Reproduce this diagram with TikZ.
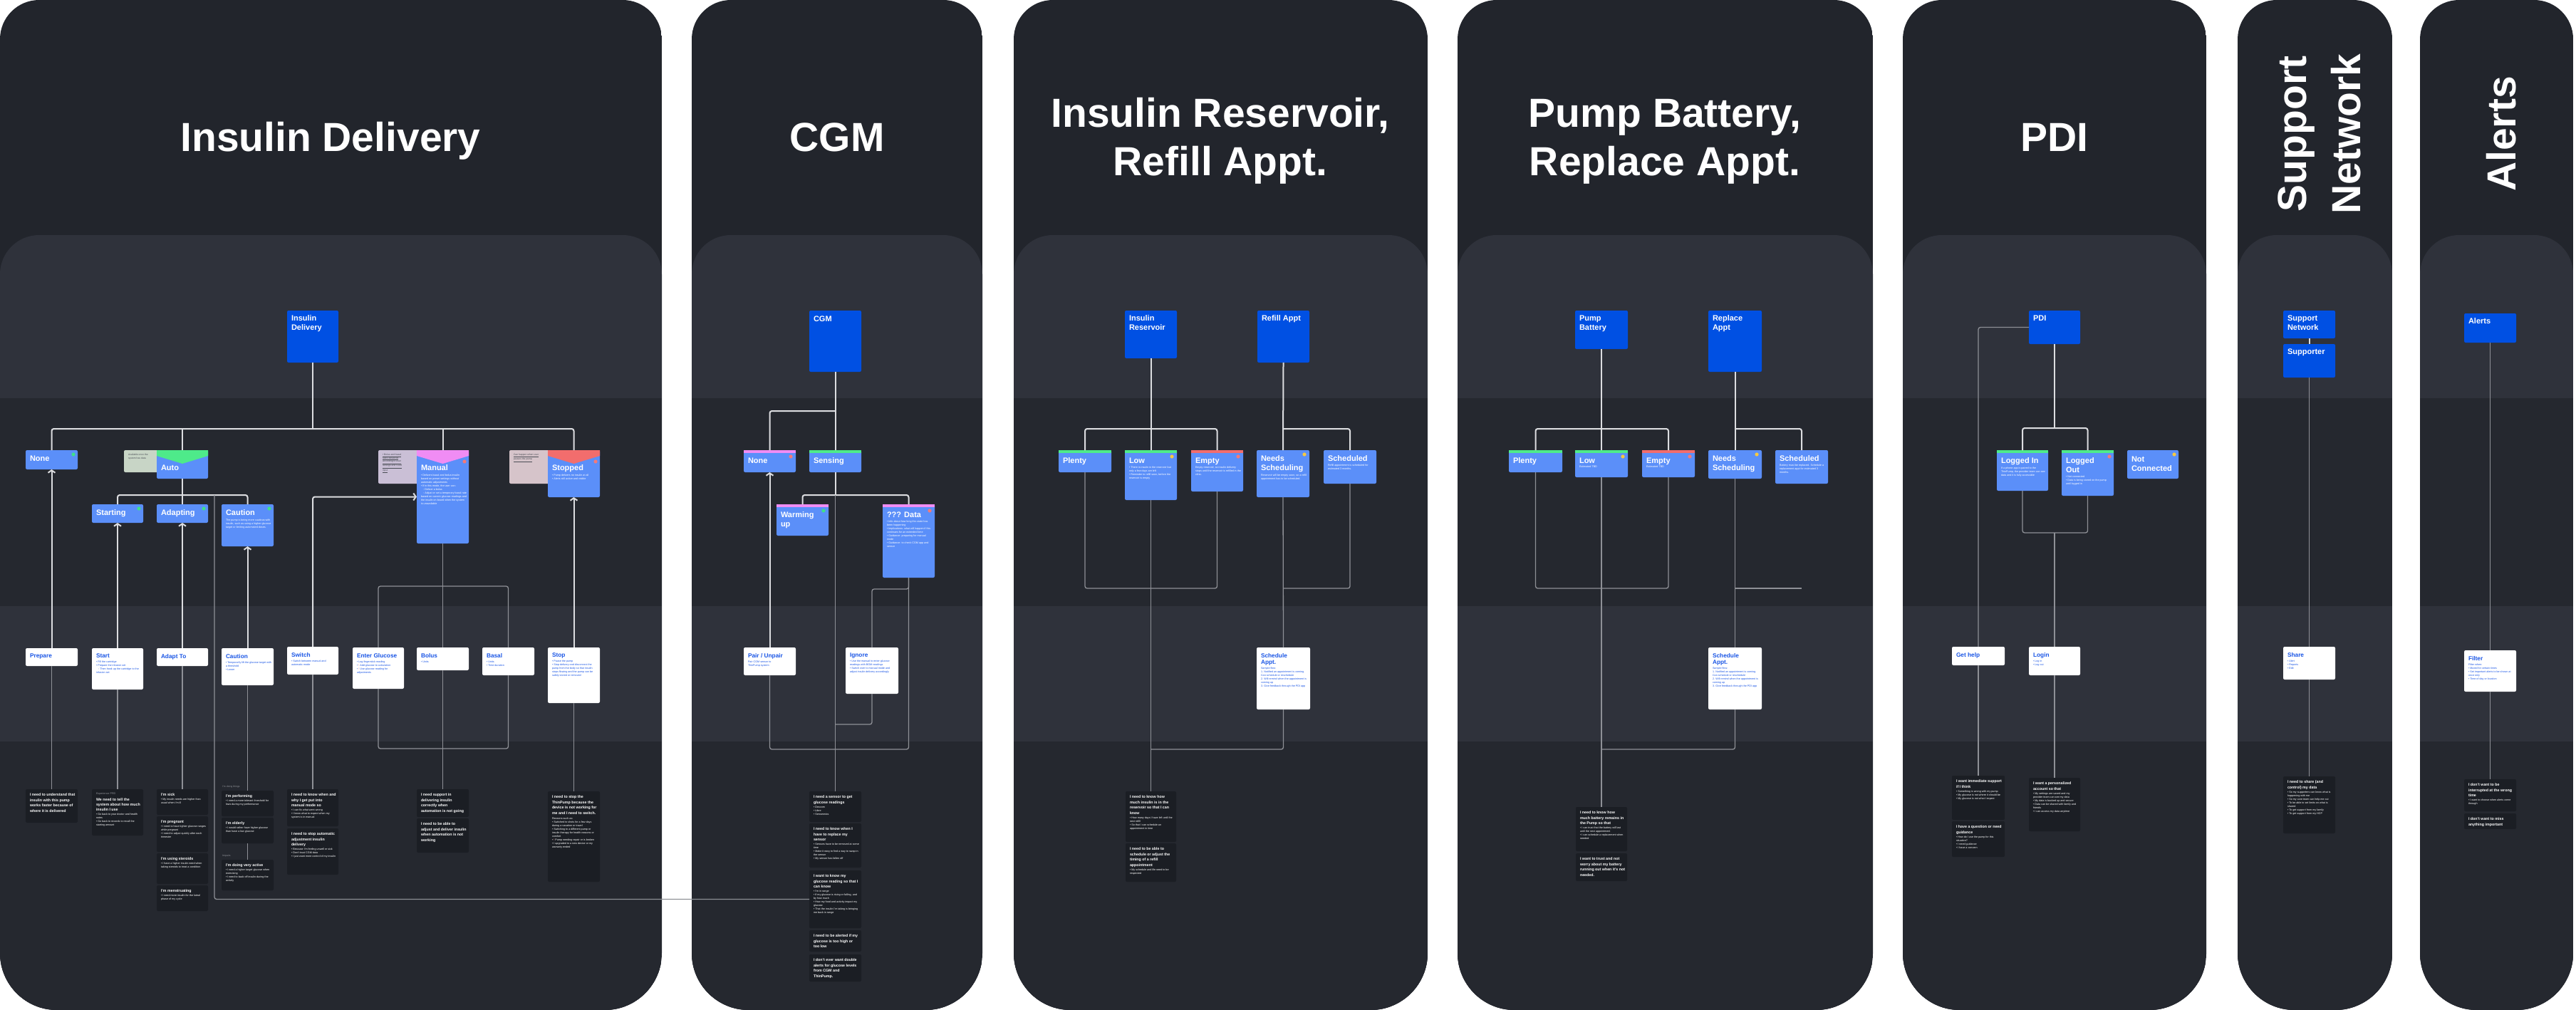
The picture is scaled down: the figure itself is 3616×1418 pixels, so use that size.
\documentclass[tikz,border=0pt]{standalone}
\usepackage{fontspec}
\setmainfont{Liberation Sans}
\usetikzlibrary{arrows.meta,calc}
\definecolor{panel}{HTML}{22252C}
\definecolor{bandL}{HTML}{2F323B}
\definecolor{bandD}{HTML}{25282F}
\definecolor{hblue}{HTML}{0050E3}
\definecolor{sblue}{HTML}{5B8FF9}
\definecolor{tblue}{HTML}{1A56E6}
\definecolor{needc}{HTML}{1B1E24}
\definecolor{gstrip}{HTML}{4EEA8A}
\definecolor{pstrip}{HTML}{F08CF4}
\definecolor{rstrip}{HTML}{F26D6D}
\definecolor{ydot}{HTML}{F5C842}
\definecolor{gdot}{HTML}{3FE08A}
\definecolor{rdot}{HTML}{F27A7A}
\definecolor{lineL}{HTML}{DCDDE0}
\definecolor{lineG}{HTML}{8E9096}
\definecolor{noteA}{HTML}{C8D5C6}
\definecolor{noteM}{HTML}{CABFD6}
\definecolor{noteS}{HTML}{D6C4CA}
\definecolor{notetxt}{HTML}{4A4D55}
\newcommand\cbx[4]{\parbox[c][#2pt][t]{#1pt}{\vspace*{#3pt}\leftskip=6pt\rightskip=3pt plus 1fil\relax\parindent=0pt\parskip=0pt\relax #4\par}}
\newcommand\Ttl{\bfseries\fontsize{11}{13}\selectfont}
\newcommand\Atl{\bfseries\fontsize{8.3}{9.6}\selectfont}
\newcommand\Ntl{\bfseries\fontsize{5.3}{7.4}\selectfont}
\newcommand\Bod{\fontsize{3.7}{5}\selectfont}
\newcommand\Nte{\fontsize{3.4}{4.6}\selectfont}
\newcommand\Rx{\textcolor{rdot}{!}}
\newcommand\chev[2]{\fill[#2] (#1.north west) -- (#1.north east) -- ($(#1.north east)+(0,8)$) -- ($(#1.north)+(0,19)$) -- ($(#1.north west)+(0,8)$) -- cycle;}
\newcommand\stripx[2]{\fill[#2] (#1.north west) rectangle ($(#1.north east)+(0,4)$);}
\newcommand\dotat[3]{\fill[#2] ($(#1.north east)+#3$) circle (2.6pt);}
\begin{document}
\begin{tikzpicture}[x=1pt,y=-1pt,
 cardbase/.style={anchor=north west, inner sep=0pt, outer sep=0pt, rounded corners=2pt},
 head/.style={cardbase, fill=hblue, text=white},
 st/.style={cardbase, fill=sblue, text=white},
 act/.style={cardbase, fill=white, text=tblue},
 need/.style={cardbase, fill=needc, text=white},
 note/.style={cardbase, text=notetxt},
 ml/.style={draw=lineL, line width=2pt},
 mg/.style={draw=lineG, line width=1.3pt},
 rc/.style={rounded corners=3pt},
 arr/.style={-{Straight Barb[length=3.5pt,width=10pt]}},
 coltitle/.style={text=white, font=\bfseries\fontsize{57}{68}\selectfont, inner sep=0pt},
 tinylbl/.style={anchor=south west, inner sep=0pt, text=lineG, font=\fontsize{3.5}{4}\selectfont}
]
\useasboundingbox (0,0) rectangle (3616,1418);
\fill[white] (0,0) rectangle (3616,1418);
% ---------- panels ----------
\foreach \xa/\xb in {0/929, 971/1379, 1423/2004, 2046/2629, 2671/3097, 3141/3358, 3397/3612} {
 \begin{scope}
  \clip (\xa,709) [rounded corners=55pt] -- (\xa,0) -- (\xb,0) -- (\xb,709) [rounded corners=80pt] -- (\xb,1418) -- (\xa,1418) -- cycle;
  \fill[panel] (\xa,0) rectangle (\xb,1418);
  \fill[bandL, rounded corners=55pt] (\xa,330) rectangle (\xb,1500);
  \fill[bandD] (\xa,559) rectangle (\xb,851);
  \fill[bandL] (\xa,851) rectangle (\xb,1041);
  \fill[bandD] (\xa,1041) rectangle (\xb,1418);
 \end{scope}
}
% ---------- column titles ----------
\node[coltitle, anchor=base] (t1) at (464,212) {Insulin Delivery};
\node[coltitle, anchor=base] (t2) at (1175,212) {CGM};
\node[coltitle, anchor=base] (t3a) at (1713,178) {Insulin Reservoir,};
\node[coltitle, anchor=base] (t3b) at (1713,246) {Refill Appt.};
\node[coltitle, anchor=base] (t4a) at (2337,178) {Pump Battery,};
\node[coltitle, anchor=base] (t4b) at (2337,246) {Replace Appt.};
\node[coltitle, anchor=base] (t5) at (2884,212) {PDI};
\node[coltitle, anchor=base, rotate=90] (t6a) at (3237,188) {Support};
\node[coltitle, anchor=base, rotate=90] (t6b) at (3313,188) {Network};
\node[coltitle, anchor=base, rotate=90] (t7) at (3531,188) {Alerts};

% ================= INSULIN DELIVERY =================
\node[head] (id) at (403,436) {\cbx{72}{73}{7}{{\Ttl Insulin\\Delivery\par}}};
\node[note, fill=noteA] (autonote) at (174,632) {\cbx{60}{31}{5}{{\Nte Available once the\\system has data\par}}};
\node[note, fill=noteM] (mannote) at (531,632) {\cbx{62}{47}{5}{{\Nte \underline{• Bolus and basal}\\\underline{rates delivered}\\\underline{according to user}\\\underline{settings and CGM}\\\underline{input}\par}}};
\node[note, fill=noteS] (stopnote) at (715,632) {\cbx{62}{47}{5}{{\Nte \underline{Can happen when user}\\\underline{pauses the pump}\par}}};
\node[st] (none) at (36,632) {\cbx{73}{27}{8}{{\Ttl None\par}}};
\node[st] (auto) at (220,632) {\cbx{72}{40}{21}{{\Ttl Auto\par}}};
\node[st] (manual) at (585,632) {\cbx{73}{131}{21}{{\Ttl Manual\par}\vspace{3pt}{\Bod • Delivers basal and bolus insulin based on preset settings without automatic adjustments\\• If in this mode, the user can:\\\hspace*{3pt}◦ Deliver a bolus\\\hspace*{3pt}◦ Adjust or set a temporary basal rate based on current glucose readings and the insulin on board when the system is unavailable\par}}};
\node[st] (stopped) at (769,632) {\cbx{73}{66}{21}{{\Ttl Stopped\par}\vspace{3pt}{\Bod • Pump delivers no insulin at all\\• Alerts still active and visible\par}}};
\node[st] (starting) at (129,708) {\cbx{72}{26}{8}{{\Ttl Starting\par}}};
\node[st] (adapting) at (220,708) {\cbx{72}{26}{8}{{\Ttl Adapting\par}}};
\node[st] (caution) at (311,708) {\cbx{73}{59}{8}{{\Ttl Caution\par}\vspace{3pt}{\Bod The pump is being more cautious with insulin, such as using a higher glucose target or limiting automated doses.\par}}};
\chev{auto}{gstrip}
\chev{manual}{pstrip}
\chev{stopped}{rstrip}
\dotat{none}{gdot}{(-6,6)}
\dotat{manual}{rdot}{(-6,16)}
\dotat{stopped}{rdot}{(-6,16)}
\dotat{starting}{gdot}{(-6,6)}
\dotat{adapting}{gdot}{(-6,6)}
\dotat{caution}{gdot}{(-6,6)}
% actions
\node[act] (prepare) at (36,910) {\cbx{73}{25}{8}{{\Atl Prepare\par}}};
\node[act] (start) at (129,910) {\cbx{72}{58}{8}{{\Atl Start\par}\vspace{2pt}{\Bod • Fill the cartridge\\• Prepare the infusion set\\\hspace*{3pt}◦ Then hook up the cartridge to the infusion set\par}}};
\node[act] (adaptto) at (220,910) {\cbx{72}{25}{8}{{\Atl Adapt To\par}}};
\node[act] (cautiona) at (311,910) {\cbx{73}{52}{8}{{\Atl Caution\par}\vspace{2pt}{\Bod • Temporarily lift the glucose target with a threshold\\• Lower\par}}};
\node[act] (switch) at (403,908) {\cbx{72}{39}{8}{{\Atl Switch\par}\vspace{2pt}{\Bod • Switch between manual and automatic mode\par}}};
\node[act] (enterg) at (495,909) {\cbx{72}{58}{8}{{\Atl Enter Glucose\par}\vspace{2pt}{\Bod • Log fingerstick reading\\• \Rx\ Add glucose to calculation\\• \Rx\ Use glucose reading for adjustments\par}}};
\node[act] (bolus) at (585,909) {\cbx{73}{32}{8}{{\Atl Bolus\par}\vspace{2pt}{\Bod • Units\par}}};
\node[act] (basal) at (677,909) {\cbx{73}{39}{8}{{\Atl Basal\par}\vspace{2pt}{\Bod • Units\\• Time duration\par}}};
\node[act] (stop) at (769,909) {\cbx{73}{78}{8}{{\Atl Stop\par}\vspace{2pt}{\Bod • Pause the pump\\• Stop delivery and disconnect the pump from the body so that insulin stops flowing and the pump can be safely stored or removed\par}}};
% needs
\node[need] (nprep) at (36,1108) {\cbx{73}{47}{6}{{\Ntl I need to understand that insulin with this pump works faster because of where it is delivered\par}}};
\node[need] (nstart) at (129,1108) {\cbx{72}{65}{5}{{\Bod\color{lineG} Experience PRD\par}\vspace{1pt}{\Ntl We need to tell the system about how much insulin I use\par}\vspace{1pt}{\Bod • Go back to your doctor and health notes\\• Go back to records to recall the starting amount\par}}};
\node[need] (nad1) at (220,1108) {\cbx{72}{36}{6}{{\Ntl I'm sick\par}\vspace{1pt}{\Bod • My insulin needs are higher than usual when I'm ill\par}}};
\node[need] (nad2) at (220,1146) {\cbx{72}{50}{6}{{\Ntl I'm pregnant\par}\vspace{1pt}{\Bod • I need to have tighter glucose ranges while pregnant\\• I need to adjust quickly after each trimester\par}}};
\node[need] (nad3) at (220,1198) {\cbx{72}{43}{6}{{\Ntl I'm using steroids\par}\vspace{1pt}{\Bod • I have a higher insulin need when taking steroids to treat a condition\par}}};
\node[need] (nad4) at (220,1243) {\cbx{72}{36}{6}{{\Ntl I'm menstruating\par}\vspace{1pt}{\Bod • I need more insulin for the luteal phase of my cycle\par}}};
\node[tinylbl] (lbl1) at (312,1106) {I'm doing things};
\node[need] (ncau1) at (311,1110) {\cbx{73}{36}{6}{{\Ntl I'm performing\par}\vspace{1pt}{\Bod • I need a more tolerant threshold for lows during my performance\par}}};
\node[need] (ncau2) at (311,1148) {\cbx{73}{36}{6}{{\Ntl I'm elderly\par}\vspace{1pt}{\Bod • I would rather have higher glucose than have a low glucose\par}}};
\node[tinylbl] (lbl2) at (312,1203) {Impairs};
\node[need] (ncau3) at (311,1207) {\cbx{73}{43}{6}{{\Ntl I'm doing very active\par}\vspace{1pt}{\Bod • I need a higher target glucose when exercising\\• I need to back off insulin during the activity\par}}};
\node[need] (nsw1) at (403,1108) {\cbx{72}{52}{6}{{\Ntl I need to know when and why I get put into manual mode so\par}\vspace{1pt}{\Bod • I can fix what went wrong\\• I know what to expect when my system is in manual\par}}};
\node[need] (nsw2) at (403,1163) {\cbx{72}{65}{6}{{\Ntl I need to stop automatic adjustment insulin delivery\par}\vspace{1pt}{\Bod • Because I'm feeling unwell or sick\\• Don't trust CGM data\\• I just want more control of my insulin\par}}};
\node[need] (nbol1) at (585,1108) {\cbx{73}{39}{6}{{\Ntl I need support in delivering insulin correctly when automation is not going\par}}};
\node[need] (nbol2) at (585,1149) {\cbx{73}{48}{6}{{\Ntl I need to be able to adjust and deliver insulin when automation is not working\par}}};
\node[need] (nstop) at (769,1111) {\cbx{73}{127}{6}{{\Ntl I need to stop the ThinPump because the device is not working for me and I need to switch.\par}\vspace{2pt}{\Bod Reasons such as:\\• Switched to shots for a few days during a vacation or travel\\• Switching to a different pump or insulin therapy for health reasons or comfort\\• \Rx\ Pump needing repair or is broken\\• I upgraded to a new device or my warranty ended\par}}};
% connectors
\coordinate (idb) at (439,602);
\draw[ml] (id.south) -- (idb);
\draw[ml,rc] (none.north) |- (idb) -| (stopped.north);
\draw[ml] (auto.north) -- (auto.north |- idb);
\draw[ml] (manual.north) -- (manual.north |- idb);
\coordinate (ab) at (256,695);
\draw[ml] (auto.south) -- (ab);
\draw[ml,rc] (starting.north) |- (ab) -| (caution.north);
\draw[ml] (adapting.north) -- (adapting.north |- ab);
\coordinate (ax) at (301,695);
\draw[ml,arr] (prepare.north) -- (none.south);
\draw[ml,arr] (start.north) -- (starting.south);
\draw[ml,arr] (adaptto.north) -- (adapting.south);
\draw[ml,arr] (cautiona.north) -- (caution.south);
\draw[ml,arr,rc] (switch.north) |- (manual.west);
\draw[ml,arr] (stop.north) -- (stopped.south);
\coordinate (mb) at (621.5,823);
\draw[mg] (manual.south) -- (bolus.north);
\draw[mg,rc] (enterg.north) |- (mb) -| (basal.north);
\coordinate (mb2) at (621.5,1051);
\draw[mg,rc] (enterg.south) |- (mb2) -| (basal.south);
\draw[mg] (bolus.south) -- (nbol1.north);
\draw[mg] (prepare.south) -- (nprep.north);
\draw[mg] (start.south) -- (nstart.north);
\draw[mg] (adaptto.south) -- (nad1.north);
\draw[mg] (cautiona.south) -- (ncau1.north);
\draw[mg] (ncau2.south) -- (ncau3.north);
\draw[mg] (switch.south) -- (nsw1.north);
\draw[mg] (stop.south) -- (nstop.north);

% ================= CGM =================
\node[head] (cgm) at (1136,436) {\cbx{73}{86}{8}{{\Ttl CGM\par}}};
\node[st] (cnone) at (1044,632) {\cbx{73}{31}{11}{{\Ttl None\par}}};
\node[st] (csens) at (1136,632) {\cbx{73}{31}{11}{{\Ttl Sensing\par}}};
\node[st] (cwarm) at (1090,708) {\cbx{73}{44}{11}{{\Ttl Warming\\up\par}}};
\node[st] (cdata) at (1239,708) {\cbx{73}{103}{11}{{\Ttl ??? Data\par}\vspace{2pt}{\Bod • Info about how long this state has been happening\\• Implications: what will happen if this continues for an extended time\\• Guidance: preparing for manual mode\\• Guidance: to check CGM app and sensor\par}}};
\stripx{cnone}{pstrip}
\stripx{csens}{gstrip}
\stripx{cwarm}{pstrip}
\stripx{cdata}{pstrip}
\dotat{cnone}{rdot}{(-7,9)}
\dotat{cwarm}{gdot}{(-7,9)}
\dotat{cdata}{rdot}{(-7,9)}
\node[act] (cpair) at (1044,909) {\cbx{73}{39}{8}{{\Atl Pair / Unpair\par}\vspace{2pt}{\Bod Pair CGM sensor to\\ThinPump system\par}}};
\node[act] (cignore) at (1187,909) {\cbx{74}{65}{8}{{\Atl Ignore\par}\vspace{2pt}{\Bod • Use the manual to enter glucose readings with BGM readings\\• Switch over to manual mode and adjust insulin delivery accordingly\par}}};
\node[need] (cn1) at (1136,1111) {\cbx{73}{43}{6}{{\Ntl I need a sensor to get glucose readings\par}\vspace{1pt}{\Bod • Dexcom\\• Libre\\• Senseonics\par}}};
\node[need] (cn2) at (1136,1156) {\cbx{73}{62}{6}{{\Ntl I need to know when I have to replace my sensor\par}\vspace{1pt}{\Bod • Sensors have to be removed at some time\\• Make it easy to find a way to swap in the sensor\\• My sensor has fallen off\par}}};
\node[need] (cn3) at (1136,1222) {\cbx{73}{81}{6}{{\Ntl I want to know my glucose reading so that I can know\par}\vspace{1pt}{\Bod • I'm in range\\• If my glucose is rising or falling, and by how much\\• How my food and activity impact my glucose\\• That the insulin I'm taking is bringing me back in range\par}}};
\node[need] (cn4) at (1136,1306) {\cbx{73}{30}{6}{{\Ntl I need to be alerted if my glucose is too high or too low\par}}};
\node[need] (cn5) at (1136,1340) {\cbx{73}{38}{6}{{\Ntl I don't ever want double alerts for glucose levels from CGM and ThinPump.\par}}};
\coordinate (cb1) at (1172.5,577);
\draw[ml] (cgm.south) -- (csens.north);
\draw[ml,rc] (cnone.north) |- (cb1);
\coordinate (cb2) at (1172.5,695);
\draw[ml] (csens.south) -- (cb2);
\draw[ml,rc] (cwarm.north) |- (cb2) -| (cdata.north);
\draw[ml,arr] (cpair.north) -- (cnone.south);
\draw[mg,rc] (cdata.south) -- ++(0,16) -| (cignore.north);
\draw[mg] (cb2) -- (cn1.north);
\coordinate (cb3) at (1172.5,1052);
\draw[mg,rc] (cpair.south) |- (cb3) -| (cdata.south);
\draw[mg,rc] (cignore.south) |- ($(cb3)+(0,-35)$);
\draw[mg,rc] (ax) |- (cn3.west);

% ================= RESERVOIR =================
\node[head] (rhead) at (1579,436) {\cbx{73}{67}{7}{{\Ttl Insulin\\Reservoir\par}}};
\node[head] (fhead) at (1765,436) {\cbx{73}{73}{7}{{\Ttl Refill Appt\par}}};
\node[st] (rplenty) at (1486,632) {\cbx{74}{31}{11}{{\Ttl Plenty\par}}};
\node[st] (rlow) at (1579,632) {\cbx{73}{70}{11}{{\Ttl Low\par}\vspace{2pt}{\Bod • There is insulin in the reservoir but only a few days are left\\• Reminder to refill soon, before the reservoir is empty\par}}};
\node[st] (rempty) at (1672,632) {\cbx{73}{58}{11}{{\Ttl Empty\par}\vspace{2pt}{\Bod Empty reservoir, so insulin delivery stops until the reservoir is refilled in the clinic.\par}}};
\node[st] (rneeds) at (1764,632) {\cbx{74}{66}{8}{{\Ttl Needs\\Scheduling\par}\vspace{2pt}{\Bod Reservoir will be empty soon, so a refill appointment has to be scheduled.\par}}};
\node[st] (rsched) at (1858,632) {\cbx{74}{47}{8}{{\Ttl Scheduled\par}\vspace{2pt}{\Bod Refill appointment is scheduled for estimated 3 months.\par}}};
\stripx{rplenty}{gstrip}
\stripx{rlow}{gstrip}
\stripx{rempty}{rstrip}
\dotat{rlow}{ydot}{(-7,9)}
\dotat{rempty}{rdot}{(-7,9)}
\dotat{rneeds}{ydot}{(-7,6)}
\node[act] (rappt) at (1764,909) {\cbx{75}{87}{8}{{\Atl Schedule\\Appt.\par}\vspace{2pt}{\Bod Sample flow:\\1. Notified an appointment is coming. Can schedule or reschedule\\2. Will remind when the appointment is coming up\\3. Give feedback through the PDI app\par}}};
\node[need] (rn1) at (1580,1111) {\cbx{71}{71}{6}{{\Ntl I need to know how much insulin is in the reservoir so that I can know\par}\vspace{1pt}{\Bod • How many days I have left until the next refill\\• So that I can schedule an appointment in time\par}}};
\node[need] (rn2) at (1580,1184) {\cbx{71}{54}{6}{{\Ntl I need to be able to schedule or adjust the timing of a refill appointment\par}\vspace{1pt}{\Bod • My schedule and life need to be respected\par}}};
\coordinate (rb) at (1615.5,602);
\draw[ml] (rhead.south) -- (rlow.north);
\draw[ml,rc] (rplenty.north) |- (rb) -| (rempty.north);
\draw[ml] (fhead.south) -- (rneeds.north);
\draw[ml,rc] (fhead.south |- rb) -| (rsched.north);
\coordinate (rb2) at (1615.5,826);
\draw[mg,rc] (rplenty.south) |- (rb2) -| (rempty.south);
\draw[mg] (rlow.south) -- (rn1.north);
\draw[mg,rc] (rneeds.south |- rb2) -| (rsched.south);
\draw[mg] (rneeds.south) -- (rappt.north);
\draw[mg,rc] (rappt.south) |- ($(rb2)+(0,226)$);

% ================= BATTERY =================
\node[head] (bhead) at (2211,436) {\cbx{74}{54}{7}{{\Ttl Pump\\Battery\par}}};
\node[head] (phead) at (2398,436) {\cbx{75}{86}{7}{{\Ttl Replace\\Appt\par}}};
\node[st] (bplenty) at (2118,632) {\cbx{75}{31}{11}{{\Ttl Plenty\par}}};
\node[st] (blow) at (2211,632) {\cbx{74}{38}{11}{{\Ttl Low\par}\vspace{1pt}{\Bod Estimated TBD\par}}};
\node[st] (bempty) at (2305,632) {\cbx{74}{38}{11}{{\Ttl Empty\par}\vspace{1pt}{\Bod Estimated TBD\par}}};
\node[st] (bneeds) at (2398,632) {\cbx{75}{40}{8}{{\Ttl Needs\\Scheduling\par}}};
\node[st] (bsched) at (2492,632) {\cbx{74}{47}{8}{{\Ttl Scheduled\par}\vspace{2pt}{\Bod Battery must be replaced. Schedule a replacement appt for estimated 3 months.\par}}};
\stripx{bplenty}{gstrip}
\stripx{blow}{gstrip}
\stripx{bempty}{rstrip}
\dotat{blow}{ydot}{(-7,9)}
\dotat{bempty}{rdot}{(-7,9)}
\dotat{bneeds}{ydot}{(-7,6)}
\node[act] (bappt) at (2398,909) {\cbx{75}{87}{8}{{\Atl Schedule\\Appt.\par}\vspace{2pt}{\Bod Sample flow:\\1. Notified an appointment is coming. Can schedule or reschedule\\2. Will remind when the appointment is coming up\\3. Give feedback through the PDI app\par}}};
\node[need] (bn1) at (2212,1133) {\cbx{72}{62}{6}{{\Ntl I need to know how much battery remains in the Pump so that\par}\vspace{1pt}{\Bod • I can trust that the battery will last until the next appointment\\• I can schedule a replacement when needed\par}}};
\node[need] (bn2) at (2212,1198) {\cbx{72}{39}{6}{{\Ntl I want to trust and not worry about my battery running out when it's not needed.\par}}};
\coordinate (bb) at (2248,602);
\draw[ml] (bhead.south) -- (blow.north);
\draw[ml,rc] (bplenty.north) |- (bb) -| (bempty.north);
\draw[ml] (phead.south) -- (bneeds.north);
\draw[ml,rc] (phead.south |- bb) -| (bsched.north);
\coordinate (bb2) at (2248,826);
\draw[mg,rc] (bplenty.south) |- (bb2) -| (bempty.south);
\draw[mg] (blow.south) -- (bn1.north);
\draw[mg,rc] (bneeds.south |- bb2) -- (bsched.south |- bb2);
\draw[mg] (bneeds.south) -- (bappt.north);
\draw[mg,rc] (bappt.south) |- ($(bb2)+(0,226)$);

% ================= PDI =================
\node[head] (pdi) at (2848,436) {\cbx{72}{47}{7}{{\Ttl PDI\par}}};
\node[st] (lin) at (2803,632) {\cbx{72}{57}{11}{{\Ttl Logged In\par}\vspace{2pt}{\Bod If a phone app is paired to the ThinPump, the provider team can see data and it is fully accessible\par}}};
\node[st] (lout) at (2894,632) {\cbx{73}{64}{11}{{\Ttl Logged\\Out\par}\vspace{2pt}{\Bod • Not connected\\• Data is being stored on the pump until logged in\par}}};
\node[st] (notc) at (2986,632) {\cbx{72}{40}{9}{{\Ttl Not\\Connected\par}}};
\stripx{lin}{gstrip}
\stripx{lout}{gstrip}
\dotat{lout}{rdot}{(-6,9)}
\dotat{notc}{ydot}{(-6,6)}
\node[act] (gethelp) at (2740,908) {\cbx{74}{26}{8}{{\Atl Get help\par}}};
\node[act] (logina) at (2848,908) {\cbx{72}{40}{8}{{\Atl Login\par}\vspace{2pt}{\Bod • Log in\\• Log out\par}}};
\node[need] (pn1) at (2740,1089) {\cbx{74}{62}{6}{{\Ntl I want immediate support if I think\par}\vspace{1pt}{\Bod • Something is wrong with my pump\\• My glucose is not where it should be\\• My glucose is not what I expect\par}}};
\node[need] (pn2) at (2740,1153) {\cbx{74}{50}{6}{{\Ntl I have a question or need guidance\par}\vspace{1pt}{\Bod • How do I use the pump for this situation?\\• I need guidance\\• I have a concern\par}}};
\node[need] (pn3) at (2848,1092) {\cbx{72}{75}{6}{{\Ntl I want a personalized account so that\par}\vspace{1pt}{\Bod • My settings are saved and my provider team can see my data\\• My data is backed up and secure\\• Data can be shared with family and friends\\• I can access my data anytime\par}}};
\coordinate (pb) at (2884,601);
\draw[ml] (pdi.south) -- (pb);
\draw[ml,rc] (lin.north) |- (pb) -| (lout.north);
\coordinate (pb2) at (2884,748);
\draw[mg,rc] (lin.south) |- (pb2) -| (lout.south);
\draw[mg] (pb2) -- (logina.north);
\draw[mg,rc] (gethelp.north) |- (pdi.west);
\draw[mg] (gethelp.south) -- (pn1.north);
\draw[mg] (logina.south) -- (pn3.north);

% ================= SUPPORT =================
\node[head] (snet) at (3205,436) {\cbx{73}{39}{7}{{\Ttl Support\\Network\par}}};
\node[head] (supp) at (3205,483) {\cbx{73}{47}{7}{{\Ttl Supporter\par}}};
\node[act] (share) at (3205,908) {\cbx{73}{46}{8}{{\Atl Share\par}\vspace{2pt}{\Bod • Alert\\• Reports\\• Edit\par}}};
\node[need] (sn1) at (3205,1090) {\cbx{73}{80}{6}{{\Ntl I need to share (and control) my data\par}\vspace{1pt}{\Bod • So my supporters can know what is happening with me\\• So my care team can help me out\\• To be able to set limits on what is shared\\• To get support from my family\\• To get support from my HCP\par}}};
\draw[ml] (snet.south) -- (supp.north);
\draw[mg] (supp.south) -- (share.north);
\draw[mg] (share.south) -- (sn1.north);

% ================= ALERTS =================
\node[head] (alerts) at (3459,440) {\cbx{73}{41}{7}{{\Ttl Alerts\par}}};
\node[act] (filter) at (3459,913) {\cbx{73}{58}{8}{{\Atl Filter\par}\vspace{2pt}{\Bod Filter when:\\• Muted for certain times\\• Set important alerts to be shown at once only\\• Time of day or location\par}}};
\node[need] (an1) at (3459,1094) {\cbx{73}{45}{6}{{\Ntl I don't want to be interrupted at the wrong time\par}\vspace{1pt}{\Bod • I want to choose when alerts come through\par}}};
\node[need] (an2) at (3459,1142) {\cbx{73}{22}{6}{{\Ntl I don't want to miss anything important\par}}};
\draw[mg] (alerts.south) -- (filter.north);
\draw[mg] (filter.south) -- (an1.north);
\end{tikzpicture}
\end{document}
